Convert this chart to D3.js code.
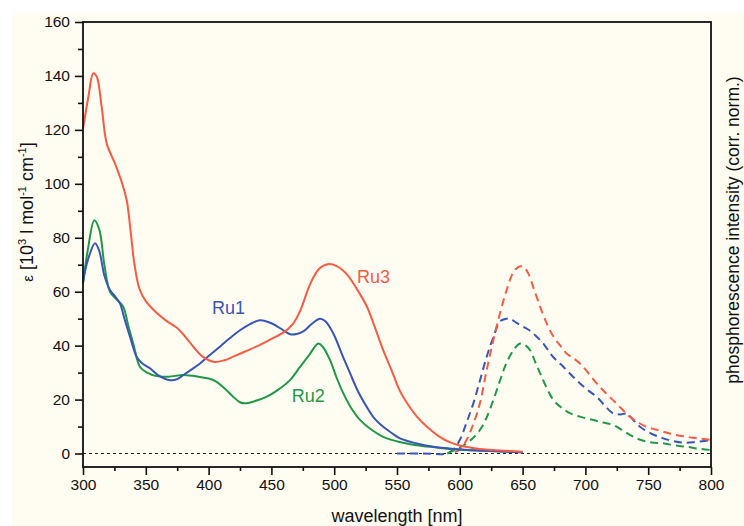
<!DOCTYPE html>
<html>
<head>
<meta charset="utf-8">
<script src="https://cdn.jsdelivr.net/npm/d3@7"></script>
<style>
  html, body { margin: 0; padding: 0; background: #ffffff; }
  svg { display: block; }
  text { font-family: "Liberation Sans", Arial, Helvetica, sans-serif; }
</style>
</head>
<body>
<svg id="chart" width="744" height="526"></svg>
<script>
// Absorption spectra, [wavelength nm, ε in 10^3 l mol^-1 cm^-1]
const ru1Abs = [[300,63.6],[304,72],[309.6,78],[313,75],[317,66],[321.5,60.6],[326,58],[329.5,55.6],[333,50],[337.4,43.3],[342.7,35.9],[347,33.5],[353.3,31.6],[360,29],[369.3,27.2],[375,27.6],[380,29.1],[386,31],[393.2,33.4],[401,36.5],[409,39.6],[417,42.8],[425,45.7],[433,48],[441,49.4],[450,48.3],[459.5,45.7],[465,44.2],[470,44.3],[476,45.5],[482,48],[488.7,50],[493,49],[499.3,44.5],[506,37],[512.7,29.7],[519,23],[525.9,17.3],[532,13],[539,9.9],[546,7.5],[552.4,5.6],[565,3.8],[579,2.5],[600,1.5],[625,0.9],[650,0.5]];
const ru2Abs = [[300,63],[304,76],[309,86.5],[313,83],[317,70],[321.5,60],[327,57],[332,54.4],[336,47.5],[340,40.8],[345.4,32.1],[351,30],[358.7,28.7],[368,28.5],[380,29.1],[393,28.4],[400,27.8],[406.4,26.6],[413,24],[419.7,21],[425,19],[429,18.6],[436,19.3],[446,21],[455,23.5],[464.8,27.2],[472.8,32.1],[480,36.5],[487.4,40.8],[491,39.5],[496.7,34.6],[502,28],[507.3,22.3],[514,16.5],[520.7,12.4],[530,8.7],[539,6.2],[552,4.3],[565.6,3.1],[580,2.3],[592,1.7],[621,1],[650,0.5]];
const ru3Abs = [[300,120.4],[304.2,132],[308.2,141],[310.9,139.8],[314.9,128.4],[318.9,114.9],[325.5,107.5],[330.8,100.7],[334.8,93.9],[338,82],[341,70],[345,61],[350,56.5],[359,52],[367,49],[375,46.5],[382,43],[388,39.5],[395,36],[404,34],[412,34.5],[420,36],[430,38],[441,40.3],[450,42.5],[460,45],[467,48],[473,53],[481,63],[488,68.5],[495,70.2],[502,69.5],[510,66.5],[518,61],[526,54.5],[533,46],[539,38.3],[546,30.5],[552,23.5],[559,18],[566,13.6],[575,9.5],[584,6.2],[592,4.2],[600,3],[613,1.9],[626,1.3],[650,0.7]];

// Phosphorescence spectra (corrected, normalised), [wavelength nm, intensity]
const ru1Em = [[550,0],[570,0],[589.5,0],[595,1.5],[600,5],[605,11],[610.8,18.6],[616,27],[621.4,35.9],[627,43.5],[632,49],[637,50],[640,50],[645,48.5],[650.6,47],[656,45.5],[661.3,43.3],[667,40.5],[672,37.1],[677,34.5],[682.6,32.1],[689,29],[695.7,26],[702,23.5],[709,21],[715,18],[722,14.9],[728,14.5],[733,14.8],[738,12.5],[743.5,9.9],[752,7.5],[762,5.6],[770,4.6],[778,4],[788,4.3],[800,5]];
const ru2Em = [[590,0],[597,1.5],[605.5,3.8],[611,6],[616,8.7],[621,13],[626.7,19.8],[632,27],[637,33.4],[643,38.5],[648,40.8],[652,40.2],[656,38.3],[660,34],[664,29.7],[669,24.5],[674.6,19.8],[681,17],[688,14.9],[697,13.5],[706.5,12.4],[714,11.5],[722,10.6],[729,8.8],[735.5,6.9],[742,5.4],[748.8,4.4],[755,4],[762,3.8],[771,3],[780.6,2.5],[790,1.8],[800,1.3]];
const ru3Em = [[596,0.5],[600,1.5],[604,3.8],[610,10],[616,18.6],[621,30],[626.7,42],[632,52],[637.3,60.6],[643,67.5],[648,69.4],[651,69],[654.6,66.7],[659,61],[664,54.4],[669,48.5],[674.6,43.3],[680,40],[685,37.1],[690,35.5],[695.7,33.4],[702,30],[709,26],[715,23],[722,19.8],[729,16.5],[735.4,13.6],[742,11.5],[748.7,9.9],[755,9],[762,8.1],[771,7],[780.6,6.2],[790,5.6],[800,5]];

// Axis ticks
const xMajorTicks = [300,350,400,450,500,550,600,650,700,750,800];
const xMinorTicks = [325,375,425,475,525,575,625,675,725,775];
const yMajorTicks = [0,20,40,60,80,100,120,140,160];
const yMinorTicks = [10,30,50,70,90,110,130,150];

// Curve labels: [text, wavelength, value]
const seriesLabels = [["Ru1",402.7,51.6],["Ru2",466.2,19.1],["Ru3",518.2,63.1]];
const seriesColors = {Ru1:"#3856b8", Ru2:"#1f9848", Ru3:"#f75a45"};

const W = 744, H = 526;
const plot = {left:83, right:711, top:22, bottom:467};

const svg = d3.select("#chart");
svg.append("rect").attr("x",0).attr("y",0).attr("width",W).attr("height",H).attr("fill","#ffffff");
svg.append("rect").attr("x",12).attr("y",14).attr("width",W-12).attr("height",H-14).attr("fill","#fffdf2");

const x = d3.scaleLinear().domain([300,800]).range([plot.left, plot.right]);
const y = d3.scaleLinear().domain([-5,160]).range([plot.bottom, plot.top]);

// zero baseline
svg.append("line")
  .attr("x1",x(300)).attr("x2",x(800)).attr("y1",y(0)).attr("y2",y(0))
  .attr("stroke","#222").attr("stroke-width",1).attr("stroke-dasharray","3,3");

const line = d3.line().x(d=>x(d[0])).y(d=>y(d[1])).curve(d3.curveCatmullRom.alpha(0.5));

const g = svg.append("g");
// emission (dashed)
[["Ru1",ru1Em],["Ru2",ru2Em],["Ru3",ru3Em]].forEach(([k,data])=>{
  g.append("path").attr("d",line(data)).attr("fill","none")
    .attr("stroke",seriesColors[k]).attr("stroke-width",2)
    .attr("stroke-dasharray","8,5");
});
// absorption (solid)
[["Ru2",ru2Abs],["Ru1",ru1Abs],["Ru3",ru3Abs]].forEach(([k,data])=>{
  g.append("path").attr("d",line(data)).attr("fill","none")
    .attr("stroke",seriesColors[k]).attr("stroke-width",2)
    .attr("stroke-linejoin","round");
});

// frame
svg.append("rect").attr("x",plot.left).attr("y",plot.top)
  .attr("width",plot.right-plot.left).attr("height",plot.bottom-plot.top)
  .attr("fill","none").attr("stroke","#111").attr("stroke-width",1.8);

// bottom axis
const xAxisMajor = d3.axisBottom(x).tickValues(xMajorTicks).tickSize(8).tickPadding(4).tickFormat(d3.format("d"));
const xAxisMinor = d3.axisBottom(x).tickValues(xMinorTicks).tickSize(4).tickFormat("");
const gx = svg.append("g").attr("transform",`translate(0,${plot.bottom})`).call(xAxisMajor);
const gxm = svg.append("g").attr("transform",`translate(0,${plot.bottom})`).call(xAxisMinor);
// left axis
const yAxisMajor = d3.axisLeft(y).tickValues(yMajorTicks).tickSize(8).tickPadding(5).tickFormat(d3.format("d"));
const yAxisMinor = d3.axisLeft(y).tickValues(yMinorTicks).tickSize(5).tickFormat("");
const gy = svg.append("g").attr("transform",`translate(${plot.left},0)`).call(yAxisMajor);
const gym = svg.append("g").attr("transform",`translate(${plot.left},0)`).call(yAxisMinor);

[gx,gxm,gy,gym].forEach(a=>{
  a.select(".domain").remove();
  a.selectAll(".tick line").attr("stroke","#111").attr("stroke-width",1.6);
  a.selectAll(".tick text").attr("font-size",15.5).attr("fill","#111")
    .attr("font-family",'"Liberation Sans", Arial, sans-serif');
});

// axis titles
svg.append("text").attr("x",(plot.left+plot.right)/2).attr("y",522)
  .attr("text-anchor","middle").attr("font-size",18).attr("fill","#111").text("wavelength [nm]");

const yt = svg.append("text")
  .attr("transform","translate(33,212) rotate(-90)")
  .attr("text-anchor","middle").attr("font-size",18).attr("fill","#111");
yt.append("tspan").attr("font-size",15).text("ε");
yt.append("tspan").text(" [10");
yt.append("tspan").attr("font-size",11).attr("dy",-7).text("3");
yt.append("tspan").attr("dy",7).text(" l mol");
yt.append("tspan").attr("font-size",11).attr("dy",-7).text("-1");
yt.append("tspan").attr("dy",7).text(" cm");
yt.append("tspan").attr("font-size",11).attr("dy",-7).text("-1");
yt.append("tspan").attr("dy",7).text("]");

svg.append("text")
  .attr("transform","translate(739,230) rotate(-90)")
  .attr("text-anchor","middle").attr("font-size",17.5).attr("fill","#111")
  .text("phosphorescence intensity (corr. norm.)");

// series labels
seriesLabels.forEach(([t,wl,v])=>{
  svg.append("text").attr("x",x(wl)).attr("y",y(v))
    .attr("font-size",18).attr("fill",seriesColors[t]).text(t);
});
</script>
</body>
</html>
